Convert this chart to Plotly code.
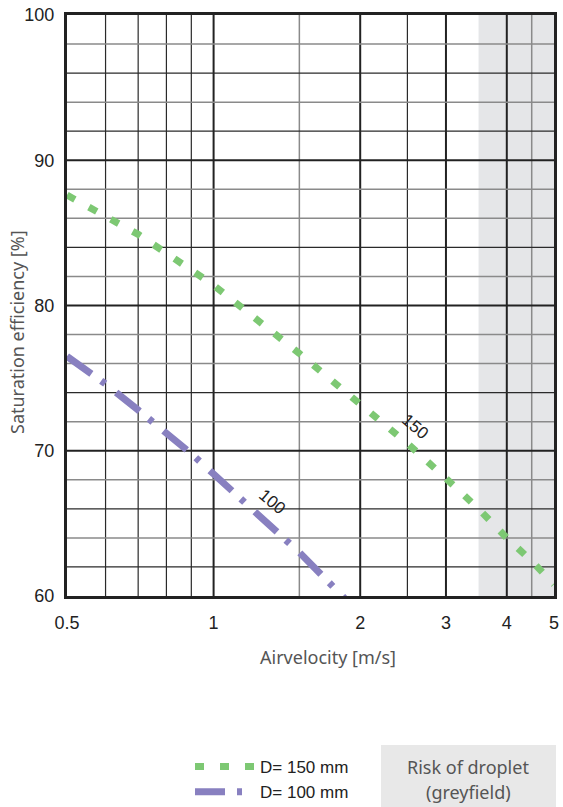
import math
import plotly.graph_objects as go

# ---- data ----
vel_150 = [0.5, 0.6, 0.7, 0.8, 0.9, 1.0, 1.5, 2.0, 2.5, 3.0, 3.5, 4.0, 4.5, 5.0]
eff_150 = [87.6, 86.2, 84.9, 83.6, 82.5, 81.4, 76.7, 73.2, 70.5, 68.1, 66.0, 64.0, 62.4, 60.8]

vel_100 = [0.5, 0.6, 0.7, 0.8, 0.9, 1.0, 1.2, 1.5, 1.85, 2.0]
eff_100 = [76.5, 74.6, 72.8, 71.25, 69.8, 68.4, 65.95, 63.0, 59.9, 58.8]

x_ticks = [0.5, 1, 2, 3, 4, 5]
x_ticktext = ["0.5", "1", "2", "3", "4", "5"]
y_ticks = [60, 70, 80, 90, 100]

x_grid_major = [1, 2, 3, 4]
x_grid_dark = [0.6, 0.7, 0.8, 0.9, 2.5]
x_grid_grey = [1.5, 4.5]
y_grid_major = [70, 80, 90]
y_grid_dark = [62, 66, 74, 84, 92, 96]
y_grid_grey = [64, 68, 72, 76, 78, 82, 86, 88, 94, 98]

grey_field = [3.5, 5.0]

label_150 = (2.59, 71.66, "150")
label_100 = (1.316, 66.5, "100")

GREEN = "#7dc873"
PURPLE = "#8880c0"

W, H = 563, 807
L, R, T, B = 67, 9, 15, 211

fig = go.Figure()

fig.add_trace(go.Scatter(
    x=vel_150, y=eff_150, mode="lines", name="D= 150 mm",
    line=dict(color=GREEN, width=7, dash="9px,16px"),
))
fig.add_trace(go.Scatter(
    x=vel_100, y=eff_100, mode="lines", name="D= 100 mm",
    line=dict(color=PURPLE, width=7, dash="30px,12px,5px,14px"),
))

shapes = []
shapes.append(dict(type="rect", xref="x", yref="paper", x0=grey_field[0], x1=grey_field[1],
                   y0=0, y1=1, fillcolor="#e5e6e8", line=dict(width=0), layer="below"))
for v in x_grid_grey:
    shapes.append(dict(type="line", xref="x", yref="paper", x0=v, x1=v, y0=0, y1=1,
                       line=dict(color="#8a8a8a", width=1.5), layer="between"))
for v in x_grid_dark:
    shapes.append(dict(type="line", xref="x", yref="paper", x0=v, x1=v, y0=0, y1=1,
                       line=dict(color="#2a2a2a", width=1.2), layer="between"))
for v in x_grid_major:
    shapes.append(dict(type="line", xref="x", yref="paper", x0=v, x1=v, y0=0, y1=1,
                       line=dict(color="#222222", width=2), layer="between"))
for v in y_grid_grey:
    shapes.append(dict(type="line", xref="paper", yref="y", x0=0, x1=1, y0=v, y1=v,
                       line=dict(color="#8a8a8a", width=1.5), layer="between"))
for v in y_grid_dark:
    shapes.append(dict(type="line", xref="paper", yref="y", x0=0, x1=1, y0=v, y1=v,
                       line=dict(color="#2a2a2a", width=1.2), layer="between"))
for v in y_grid_major:
    shapes.append(dict(type="line", xref="paper", yref="y", x0=0, x1=1, y0=v, y1=v,
                       line=dict(color="#222222", width=2), layer="between"))

PW = W - L - R
PH = H - T - B


def px_x(p):
    return (p - L) / PW


def px_y(p):
    return (H - B - p) / PH


shapes.append(dict(type="rect", xref="paper", yref="paper", x0=px_x(381), x1=px_x(556),
                   y0=px_y(807), y1=px_y(745), fillcolor="#e8e8e8", line=dict(width=0)))

TITLE_FONT = dict(size=18, color="#555", family="Noto Sans")
annotations = [
    dict(x=math.log10(label_150[0]), y=label_150[1], text=label_150[2], showarrow=False,
         textangle=40, font=dict(size=17, color="#222", family="Liberation Sans")),
    dict(x=math.log10(label_100[0]), y=label_100[1], text=label_100[2], showarrow=False,
         textangle=40, font=dict(size=17, color="#222", family="Liberation Sans")),
    dict(xref="paper", yref="paper", x=px_x(328), y=px_y(657),
         text="Airvelocity [m/s]", showarrow=False, xanchor="center", yanchor="middle",
         font=TITLE_FONT),
    dict(xref="paper", yref="paper", x=px_x(17), y=px_y(332),
         text="Saturation efficiency [%]", showarrow=False, xanchor="center", yanchor="middle",
         textangle=-90, font=TITLE_FONT),
    dict(xref="paper", yref="paper", x=px_x(468), y=px_y(767),
         text="Risk of droplet", showarrow=False, xanchor="center", yanchor="middle",
         font=TITLE_FONT),
    dict(xref="paper", yref="paper", x=px_x(468), y=px_y(792),
         text="(greyfield)", showarrow=False, xanchor="center", yanchor="middle",
         font=TITLE_FONT),
]

TICK_FONT = dict(size=18, color="#222", family="Liberation Sans")
fig.update_layout(
    width=W, height=H,
    margin=dict(l=L, r=R, t=T, b=B, autoexpand=False),
    paper_bgcolor="white", plot_bgcolor="white",
    shapes=shapes, annotations=annotations,
    showlegend=True,
    legend=dict(xref="container", yref="container", x=190 / W, y=1 - 749 / H,
                xanchor="left", yanchor="top",
                bgcolor="rgba(0,0,0,0)", font=dict(size=17, color="#222", family="Liberation Sans"),
                itemwidth=60, tracegroupgap=0),
    xaxis=dict(type="log", range=[math.log10(0.5), math.log10(5)], tickvals=x_ticks,
               ticktext=x_ticktext, automargin=False,
               showgrid=False, zeroline=False, showline=True, mirror=True,
               linecolor="#222", linewidth=3, ticks="", ticklabelstandoff=8,
               tickfont=TICK_FONT),
    yaxis=dict(range=[60, 100], tickvals=y_ticks, showgrid=False, zeroline=False,
               automargin=False,
               showline=True, mirror=True, linecolor="#222", linewidth=3, ticks="",
               ticklabelstandoff=6, tickfont=TICK_FONT),
)

fig.write_html("out.html", config={"displayModeBar": False},
               post_script="document.body.style.margin='0';document.body.style.overflow='hidden';")
